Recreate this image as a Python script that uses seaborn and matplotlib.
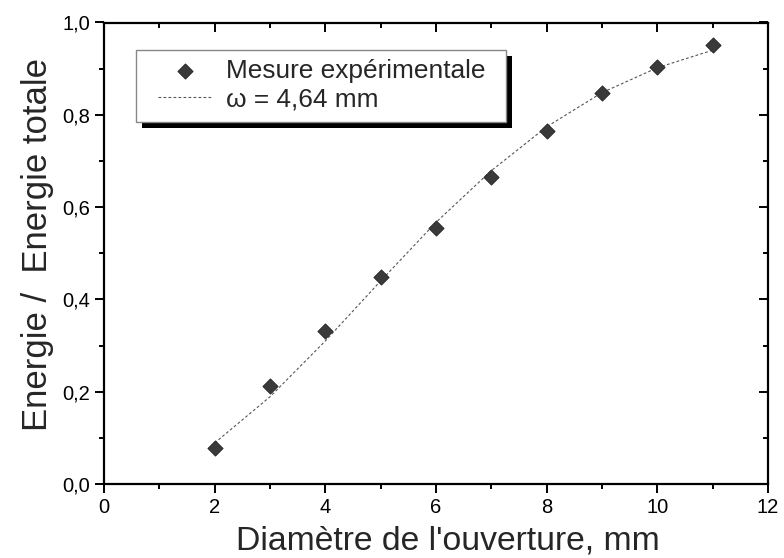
import matplotlib
matplotlib.use("Agg")
import matplotlib.pyplot as plt
import matplotlib.patheffects as pe
from matplotlib.patches import Rectangle
from matplotlib.ticker import MultipleLocator, FuncFormatter
import seaborn as sns
import pandas as pd

# Data
diametre = [2, 3, 4, 5, 6, 7, 8, 9, 10, 11]
mesure = [0.078, 0.212, 0.332, 0.449, 0.555, 0.665, 0.765, 0.848, 0.904, 0.951]
fit_x = [2, 3, 4, 5, 6, 7, 8, 9, 10, 11]
fit_y = [0.089, 0.189, 0.310, 0.440, 0.567, 0.679, 0.774, 0.848, 0.902, 0.940]

label_mesure = "Mesure expérimentale"
label_fit = "ω = 4,64 mm"

sns.set_style("ticks")
plt.rcParams['font.family'] = ['Liberation Sans', 'DejaVu Sans']

fig = plt.figure(figsize=(7.84, 5.58), dpi=100)
ax = fig.add_axes([104/784, 1 - 484/558, (768 - 104)/784, (484 - 22.5)/558])

df_m = pd.DataFrame({"x": diametre, "y": mesure})
df_f = pd.DataFrame({"x": fit_x, "y": fit_y})

sns.lineplot(data=df_f, x="x", y="y", ax=ax, color="#555555", linewidth=0.8,
             linestyle=(0, (2.5, 2.0)), label=label_fit, zorder=2)
sns.scatterplot(data=df_m, x="x", y="y", ax=ax, marker="D", s=60,
                color="#3a3a3a", edgecolor="#222222", linewidth=0.6,
                label=label_mesure, zorder=3)

ax.set_xlim(0, 12)
ax.set_ylim(0, 1.0)
ax.xaxis.set_major_locator(MultipleLocator(2))
ax.xaxis.set_minor_locator(MultipleLocator(1))
ax.yaxis.set_major_locator(MultipleLocator(0.2))
ax.yaxis.set_minor_locator(MultipleLocator(0.1))
ax.xaxis.set_major_formatter(FuncFormatter(lambda v, p: f"{v:.0f}"))
ax.yaxis.set_major_formatter(FuncFormatter(lambda v, p: f"{v:.1f}".replace(".", ",")))

for s in ax.spines.values():
    s.set_visible(True)
    s.set_linewidth(1.6)
    s.set_color("black")

ax.tick_params(axis="both", which="major", direction="out", length=6.5, width=1.4,
               labelsize=14.5, colors="black", pad=3.5)
ax.tick_params(axis="both", which="minor", direction="out", length=3.5, width=1.4,
               colors="black")
ax.tick_params(which="both", top=True, right=True)
# top/right ticks point inward
for t in ax.xaxis.get_major_ticks() + ax.xaxis.get_minor_ticks():
    t.tick2line.set_marker(3)  # TICKDOWN
for t in ax.yaxis.get_major_ticks() + ax.yaxis.get_minor_ticks():
    t.tick2line.set_marker(0)  # TICKLEFT

ax.set_xlabel("Diamètre de l'ouverture, mm", fontsize=24.3, labelpad=6)
ax.set_ylabel("Energie /  Energie totale", fontsize=25, labelpad=6)
ax.xaxis.label.set_x(0.518)
ax.yaxis.label.set_y(0.518)

# legend frame with solid black offset shadow
x0 = (136 - 104) / 664
x1 = (506 - 104) / 664
yt = 1 - (50 - 22.5) / 461.5
yb = 1 - (122 - 22.5) / 461.5
box = Rectangle((x0, yb), x1 - x0, yt - yb, transform=ax.transAxes,
                facecolor="white", edgecolor="#888888", linewidth=1.0, zorder=4.5)
box.set_path_effects([
    pe.SimplePatchShadow(offset=(4.5, -4.5), shadow_rgbFace="black", alpha=1.0),
    pe.Normal()])
ax.add_patch(box)

handles, labels = ax.get_legend_handles_labels()
order = [labels.index(label_mesure), labels.index(label_fit)]
leg = ax.legend([handles[i] for i in order], [labels[i] for i in order],
                loc="upper left", bbox_to_anchor=((158 - 9 - 104) / 664, 0.94),
                fontsize=18.9, frameon=False,
                borderpad=0.33, labelspacing=0.18, handlelength=2.05,
                handletextpad=0.56, borderaxespad=0)
leg.set_zorder(5)

fig.savefig("out.png", dpi=100)
